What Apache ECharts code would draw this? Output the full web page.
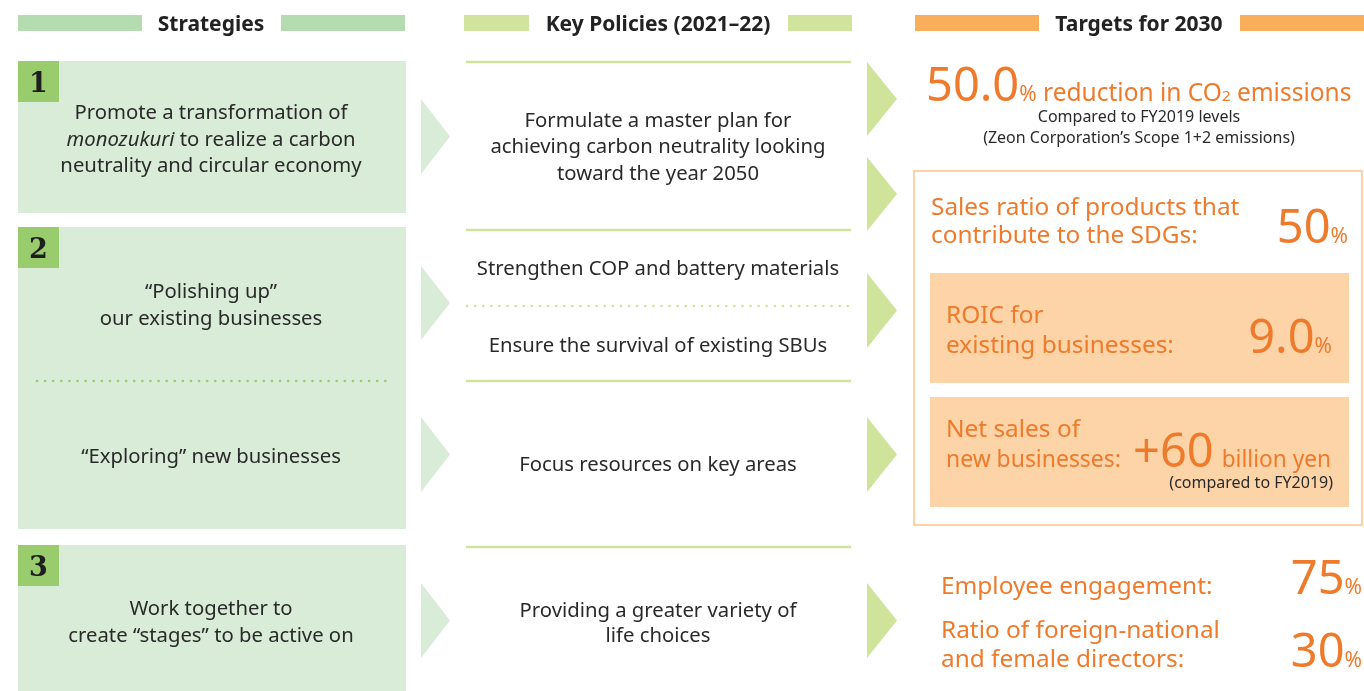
<!DOCTYPE html>
<html>
<head>
<meta charset="utf-8">
<script src="https://cdn.jsdelivr.net/npm/echarts@6/dist/echarts.min.js"></script>
<style>html,body{margin:0;padding:0;background:#fff}#c{width:1364px;height:691px}</style>
</head>
<body>
<div id="c"></div>
<script>
// ---------- content (data) ----------
const headers = ['Strategies', 'Key Policies (2021\u201322)', 'Targets for 2030'];
const strategyNumbers = ['1', '2', '3'];
const strategyTexts = [
  ['Promote a transformation of', '_monozukuri_ to realize a carbon', 'neutrality and circular economy'],
  ['\u201cPolishing up\u201d', 'our existing businesses'],
  ['\u201cExploring\u201d new businesses'],
  ['Work together to', 'create \u201cstages\u201d to be active on']
];
const policyTexts = [
  ['Formulate a master plan for', 'achieving carbon neutrality looking', 'toward the year 2050'],
  ['Strengthen COP and battery materials'],
  ['Ensure the survival of existing SBUs'],
  ['Focus resources on key areas'],
  ['Providing a greater variety of', 'life choices']
];
const targetValues = ['50.0', '50', '9.0', '+60', '75', '30'];
const targetUnits = ['%', '%', '%', 'billion yen', '%', '%'];
const targetLabels = [
  [' reduction in CO', ' emissions'],
  ['Sales ratio of products that', 'contribute to the SDGs:'],
  ['ROIC for', 'existing businesses:'],
  ['Net sales of', 'new businesses:'],
  ['Employee engagement:'],
  ['Ratio of foreign-national', 'and female directors:']
];
const co2Subscript = '2';
const targetNotes = ['Compared to FY2019 levels', '(Zeon Corporation\u2019s Scope 1+2 emissions)', '(compared to FY2019)'];

// ---------- styling / layout ----------
const FONT = '"Noto Sans", "Open Sans", sans-serif';
const SERIF = '"DejaVu Serif", "Liberation Serif", serif';
const DARK = '#2a2a2a';
const ORANGE = '#ef7a2b';
const GREEN_BOX = '#d9ecd7';
const GREEN_BADGE = '#98cc6d';
const GREEN_HEAD = '#b4dcb0';
const LIME = '#d1e49d';
const LIME_ARROW = '#cfe39b';
const LEFT_ARROW = '#d9ecd8';
const ORANGE_HEAD = '#f9ae5c';
const ORANGE_FILL = '#fdd3a8';
const ORANGE_LINE = '#fbc38d';
const K = 0.29;
const BODY = 20.3, HEAD = 21, LABEL = 24.4, VALUE = 47, PCT = 21, NOTE = 16;

const els = [];
const mctx = document.createElement('canvas').getContext('2d');
function fontOf(p) { return (p.i ? 'italic ' : '') + (p.b ? 'bold ' : '') + p.s + 'px ' + (p.f || FONT); }
function mw(p) { mctx.font = fontOf(p); return mctx.measureText(p.t).width * (p.sx || 1) + (p.gap || 0); }
function run(parts, x, base, align) {
  const ws = parts.map(mw);
  const total = ws.reduce((a, b) => a + b, 0);
  let cx = align === 'center' ? x - total / 2 : align === 'right' ? x - total : x;
  parts.forEach((p, i) => {
    els.push({ type: 'text', x: cx, y: base - K * p.s + (p.dy || 0), scaleX: p.sx || 1, z: 10, silent: true,
      style: { text: p.t, font: fontOf(p), fill: p.c || DARK, align: 'left', verticalAlign: 'middle' } });
    cx += ws[i];
  });
}
function parse(str, s, c) {
  const out = [];
  str.split('_').forEach((t, i) => { if (t.length) out.push({ t: t, s: s, c: c, i: i % 2 === 1 }); });
  return out;
}
function rect(x, y, w, h, style, z) { els.push({ type: 'rect', z: z || 1, silent: true, shape: { x: x, y: y, width: w, height: h }, style: style }); }
function arrow(x0, x1, y0, y1, fill) { els.push({ type: 'polygon', z: 2, silent: true, shape: { points: [[x0, y0], [x1, (y0 + y1) / 2], [x0, y1]] }, style: { fill: fill } }); }
function hline(x1, x2, y, stroke, w, dash) {
  els.push({ type: 'line', z: 3, silent: true, shape: { x1: x1, y1: y, x2: x2, y2: y },
    style: { stroke: stroke, lineWidth: w, lineDash: dash || null, lineCap: dash ? 'round' : 'butt' } });
}

// headers
const headLayout = [
  { cx: 211, bars: [[18, 142], [281, 405]], color: GREEN_HEAD },
  { cx: 658, bars: [[464, 529], [788, 852]], color: LIME },
  { cx: 1139, bars: [[915, 1039], [1240, 1364]], color: ORANGE_HEAD }
];
headLayout.forEach((h, i) => {
  h.bars.forEach(b => rect(b[0], 15, b[1] - b[0], 16, { fill: h.color }));
  run([{ t: headers[i], s: HEAD, b: true, c: '#222' }], h.cx, 31.5, 'center');
});

// strategy boxes
const boxLayout = [[61, 213], [227, 529], [545, 691]];
boxLayout.forEach((b, i) => {
  rect(18, b[0], 388, b[1] - b[0], { fill: GREEN_BOX });
  rect(18, b[0], 41, 41, { fill: GREEN_BADGE }, 2);
  run([{ t: strategyNumbers[i], s: 27, b: true, f: SERIF, c: '#1e1e1e' }], 38.5, b[0] + 32, 'center');
});
hline(37, 392, 381, GREEN_BADGE, 2.6, [0.1, 8]);

const stratBase = [[119, 146, 172], [298, 325], [463], [615, 642]];
strategyTexts.forEach((lines, i) => {
  lines.forEach((ln, j) => run(parse(ln, BODY, DARK), 211, stratBase[i][j], 'center'));
});

// left arrows
[[99, 174], [266, 340], [417, 492], [583, 658]].forEach(a => arrow(421, 450, a[0], a[1], LEFT_ARROW));

// policy lines
[62, 230, 381, 547].forEach(y => hline(466, 851, y, LIME, 2.6));
hline(467, 851, 306, LIME, 2.6, [0.1, 8]);
const polBase = [[127, 153, 180], [275], [352], [471], [617, 642]];
policyTexts.forEach((lines, i) => {
  lines.forEach((ln, j) => run(parse(ln, BODY, DARK), 658, polBase[i][j], 'center'));
});

// right arrows
[[62, 136], [157, 231], [273, 348], [417, 492], [583, 658]].forEach(a => arrow(867, 897, a[0], a[1], LIME_ARROW));

// targets
// 1: CO2
run([
  { t: targetValues[0], s: VALUE, c: ORANGE },
  { t: targetUnits[0], s: PCT, c: ORANGE },
  { t: targetLabels[0][0], s: 24.5, c: ORANGE },
  { t: co2Subscript, s: 15, c: ORANGE },
  { t: targetLabels[0][1], s: 24.5, c: ORANGE }
], 926, 101, 'left');
run([{ t: targetNotes[0], s: NOTE }], 1139, 122, 'center');
run([{ t: targetNotes[1], s: NOTE }], 1139, 143, 'center');

// outlined group
rect(914, 171, 448, 354, { fill: 'none', stroke: ORANGE_LINE, lineWidth: 1.5 });
rect(930, 273, 419, 110, { fill: ORANGE_FILL });
rect(930, 397, 419, 110, { fill: ORANGE_FILL });

// 2: SDGs
run([{ t: targetLabels[1][0], s: LABEL, c: ORANGE }], 931, 215, 'left');
run([{ t: targetLabels[1][1], s: LABEL, c: ORANGE }], 931, 243, 'left');
run([{ t: targetValues[1], s: VALUE, c: ORANGE }, { t: targetUnits[1], s: PCT, c: ORANGE }], 1348, 243, 'right');
// 3: ROIC
run([{ t: targetLabels[2][0], s: LABEL, c: ORANGE }], 946, 323, 'left');
run([{ t: targetLabels[2][1], s: LABEL, c: ORANGE }], 946, 353, 'left');
run([{ t: targetValues[2], s: VALUE, c: ORANGE }, { t: targetUnits[2], s: PCT, c: ORANGE }], 1332, 353, 'right');
// 4: new businesses
run([{ t: targetLabels[3][0], s: LABEL, c: ORANGE }], 946, 437, 'left');
run([{ t: targetLabels[3][1], s: LABEL, c: ORANGE, sx: 0.94 }], 946, 467, 'left');
run([{ t: targetValues[3], s: VALUE, c: ORANGE, gap: 8 }, { t: targetUnits[3], s: LABEL, c: ORANGE, sx: 0.93 }], 1133, 467, 'left');
run([{ t: targetNotes[2], s: NOTE }], 1333, 488, 'right');
// 5: engagement
run([{ t: targetLabels[4][0], s: LABEL, c: ORANGE }], 941, 594, 'left');
run([{ t: targetValues[4], s: VALUE, c: ORANGE }, { t: targetUnits[4], s: PCT, c: ORANGE }], 1362, 594, 'right');
// 6: directors
run([{ t: targetLabels[5][0], s: LABEL, c: ORANGE }], 941, 638, 'left');
run([{ t: targetLabels[5][1], s: LABEL, c: ORANGE }], 941, 667, 'left');
run([{ t: targetValues[5], s: VALUE, c: ORANGE }, { t: targetUnits[5], s: PCT, c: ORANGE }], 1362, 667, 'right');

const chart = echarts.init(document.getElementById('c'), null, { renderer: 'canvas', width: 1364, height: 691 });
chart.setOption({ animation: false, graphic: { elements: els } });
</script>
</body>
</html>
